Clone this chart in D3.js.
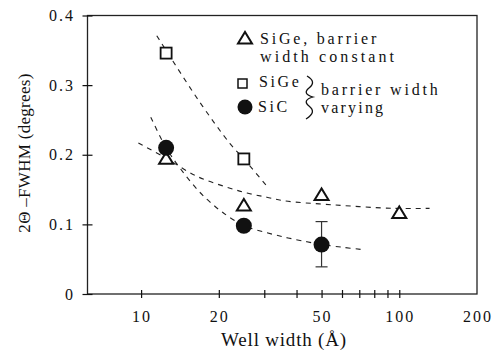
<!DOCTYPE html>
<html>
<head>
<meta charset="utf-8">
<script src="https://cdn.jsdelivr.net/npm/d3@7"></script>
<style>
  html, body { margin: 0; padding: 0; background: #fff; }
  svg { display: block; }
  text { font-family: "Liberation Serif", "Times New Roman", serif; fill: #111; }
</style>
</head>
<body>
<svg id="chart" width="493" height="354"></svg>
<script>
// X-ray rocking-curve peak width vs quantum-well width

// Axis ticks
const xMinorTicks = [10, 20, 30, 40, 50, 60, 70, 80, 90, 100];
const xTickLabels = [10, 20, 50, 100, 200];
const yTicks = [0, 0.1, 0.2, 0.3, 0.4];

// SiGe, barrier width constant (triangles)
const sigeConstWidth = [12.5, 25, 50, 100];
const sigeConstFwhm  = [0.195, 0.128, 0.143, 0.117];

// SiGe, barrier width varying (squares)
const sigeVaryWidth = [12.5, 25];
const sigeVaryFwhm  = [0.346, 0.194];

// SiC, barrier width varying (filled circles)
const sicWidth = [12.5, 25, 50];
const sicFwhm  = [0.210, 0.098, 0.071];
const sicErrLow  = [null, null, 0.039];
const sicErrHigh = [null, null, 0.104];

// Dashed guide curves through each set
const fitSigeVary = [[11.5, 0.371], [16.7, 0.278], [22.1, 0.216], [25, 0.194], [30.7, 0.155]];
const fitSic = [[10.9, 0.254], [12.5, 0.210], [14.2, 0.180], [16.7, 0.148], [18.5, 0.132],
                [20.9, 0.116], [25, 0.098], [28, 0.092], [35.6, 0.082], [43.9, 0.075],
                [50, 0.071], [60.8, 0.067], [71, 0.064]];
const fitSigeConst = [[9.76, 0.217], [12.5, 0.195], [16.45, 0.169], [22.1, 0.152], [26.4, 0.144],
                      [30.7, 0.139], [35.6, 0.134], [55.6, 0.128], [95, 0.123], [131, 0.123]];

const svg = d3.select("#chart");
const ink = "#111";

const x = d3.scaleLog().domain([6.2, 200]).range([87.5, 477]);
const y = d3.scaleLinear().domain([0, 0.4]).range([294, 15.5]);

// Frame
svg.append("rect")
  .attr("x", x.range()[0]).attr("y", y.range()[1])
  .attr("width", x.range()[1] - x.range()[0])
  .attr("height", y.range()[0] - y.range()[1])
  .attr("fill", "none").attr("stroke", "#222").attr("stroke-width", 1.3);

// X ticks crossing the bottom axis
const xAxis = d3.axisBottom(x).tickValues(xMinorTicks).tickSize(0).tickFormat("");
const gx = svg.append("g").attr("transform", `translate(0,${y(0)})`).call(xAxis);
gx.select(".domain").remove();
gx.selectAll(".tick").append("line")
  .attr("y1", -4).attr("y2", 4).attr("stroke", ink).attr("stroke-width", 1.2);

svg.append("g").selectAll("text").data(xTickLabels).join("text")
  .attr("x", d => x(d) + 1).attr("y", 321.5)
  .attr("text-anchor", "middle").attr("font-size", 16).attr("letter-spacing", 2)
  .text(d => d);

// Y ticks crossing the left axis
const yAxis = d3.axisLeft(y).tickValues(yTicks).tickSize(0).tickFormat("");
const gy = svg.append("g").attr("transform", `translate(${x.range()[0]},0)`).call(yAxis);
gy.select(".domain").remove();
gy.selectAll(".tick").append("line")
  .attr("x1", -5).attr("x2", 5).attr("stroke", ink).attr("stroke-width", 1.2);

svg.append("g").selectAll("text").data(yTicks).join("text")
  .attr("x", 75).attr("y", d => y(d) + 5.5)
  .attr("text-anchor", "end").attr("font-size", 16).attr("letter-spacing", 2)
  .text(d => d === 0 ? "0" : d3.format(".1f")(d));

// Axis titles
svg.append("text")
  .attr("x", 284).attr("y", 346)
  .attr("text-anchor", "middle").attr("font-size", 19).attr("letter-spacing", 0.8)
  .text("Well width (Å)");

svg.append("text")
  .attr("transform", "translate(30,153) rotate(-90)")
  .attr("text-anchor", "middle").attr("font-size", 17).attr("letter-spacing", 0.3)
  .text("2Θ –FWHM (degrees)");

// Dashed curves
const line = d3.line().x(d => x(d[0])).y(d => y(d[1])).curve(d3.curveCatmullRom.alpha(0.5));
[fitSigeVary, fitSic, fitSigeConst].forEach(pts => {
  svg.append("path").attr("d", line(pts))
    .attr("fill", "none").attr("stroke", "#222")
    .attr("stroke-width", 1.1).attr("stroke-dasharray", "5,5");
});

// Marker shapes
const triPath = "M-7,5.5L7,5.5L0,-6Z";
function drawTriangle(g, cx, cy) {
  g.append("path").attr("d", triPath)
    .attr("transform", `translate(${cx},${cy})`)
    .attr("fill", "#fff").attr("stroke", ink).attr("stroke-width", 2)
    .attr("stroke-linejoin", "miter");
}
function drawSquare(g, cx, cy) {
  g.append("rect").attr("x", cx - 5.5).attr("y", cy - 5.5)
    .attr("width", 11).attr("height", 11)
    .attr("fill", "#fff").attr("stroke", ink).attr("stroke-width", 1.8);
}
function drawCircle(g, cx, cy, r) {
  g.append("circle").attr("cx", cx).attr("cy", cy).attr("r", r).attr("fill", ink);
}

const marks = svg.append("g");

// Error bars (SiC)
sicWidth.forEach((w, i) => {
  if (sicErrLow[i] == null) return;
  const cx = x(w);
  marks.append("line").attr("x1", cx).attr("x2", cx)
    .attr("y1", y(sicErrLow[i])).attr("y2", y(sicErrHigh[i]))
    .attr("stroke", "#333").attr("stroke-width", 1.2);
  [sicErrLow[i], sicErrHigh[i]].forEach(v => {
    marks.append("line").attr("x1", cx - 6).attr("x2", cx + 6)
      .attr("y1", y(v)).attr("y2", y(v))
      .attr("stroke", "#333").attr("stroke-width", 1.2);
  });
});

sigeConstWidth.forEach((w, i) => drawTriangle(marks, x(w), y(sigeConstFwhm[i])));
sigeVaryWidth.forEach((w, i) => drawSquare(marks, x(w), y(sigeVaryFwhm[i])));
sicWidth.forEach((w, i) => drawCircle(marks, x(w), y(sicFwhm[i]), 8));

// Legend
const leg = svg.append("g");
const legText = (tx, ty, s, ls) => leg.append("text")
  .attr("x", tx).attr("y", ty).attr("font-size", 16).attr("letter-spacing", ls).text(s);

drawTriangle(leg, 245, 38);
legText(260, 44, "SiGe, barrier", 2.8);
legText(260, 62, "width constant", 3.1);
leg.append("rect").attr("x", 238).attr("y", 79).attr("width", 9).attr("height", 9)
  .attr("fill", "#fff").attr("stroke", ink).attr("stroke-width", 1.5);
legText(259, 87, "SiGe", 2.6);
drawCircle(leg, 245, 107, 7.5);
legText(258, 112, "SiC", 2.6);

// Wavy brace joining the two varying-barrier entries
leg.append("path")
  .attr("d", "M307,76 C314,80 314,84 309,88 C304,92 306,95 313,97 C306,99 304,102 309,106 C314,110 314,114 306,119")
  .attr("fill", "none").attr("stroke", ink).attr("stroke-width", 1.3);
legText(321, 94.5, "barrier width", 2.8);
legText(321, 112.5, "varying", 2.2);
</script>
</body>
</html>
